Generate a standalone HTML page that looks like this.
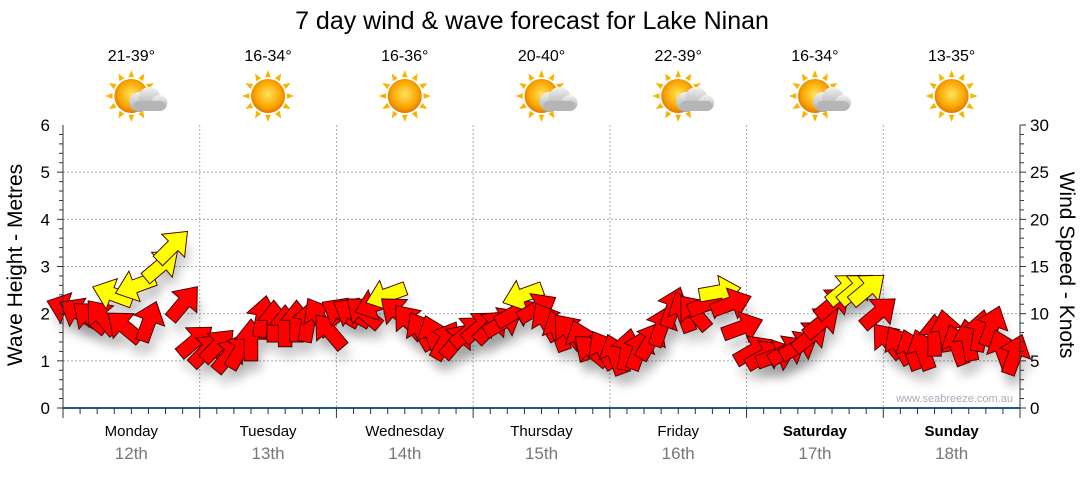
<!DOCTYPE html>
<html><head><meta charset="utf-8"><style>
body{margin:0;background:#fff;font-family:"Liberation Sans",sans-serif}
svg text{font-family:"Liberation Sans",sans-serif}
</style></head><body>
<svg id="c" width="1080" height="475" xmlns="http://www.w3.org/2000/svg">
<defs>
<radialGradient id="sun" cx="50%" cy="45%" r="55%"><stop offset="0" stop-color="#ffe45a"/><stop offset="0.7" stop-color="#f9a400"/><stop offset="1" stop-color="#e07800"/></radialGradient>
<linearGradient id="cloud" x1="0" y1="0" x2="0" y2="1"><stop offset="0" stop-color="#f2f2f2"/><stop offset="1" stop-color="#a8a8a8"/></linearGradient>
<filter id="sh" x="-50%" y="-50%" width="200%" height="200%"><feGaussianBlur stdDeviation="4"/></filter>
</defs>
<text x="532" y="29" font-size="25" text-anchor="middle" fill="#000">7 day wind &amp; wave forecast for Lake Ninan</text>
<g id="grid"></g><g id="shadows"></g><g id="marks"></g><g id="axes"></g>
</svg>
<script>
const days=["Monday","Tuesday","Wednesday","Thursday","Friday","Saturday","Sunday"];
const dates=["12th","13th","14th","15th","16th","17th","18th"];
const temps=["21-39°","16-34°","16-36°","20-40°","22-39°","16-34°","13-35°"];
const cloudy=[1,0,0,1,1,1,0];
const waveTicks=[0,1,2,3,4,5,6];
const windTicks=[0,5,10,15,20,25,30];
const windSpeed=[10.5,10,9.5,9.5,12,8.5,13,9,15,17,11,7,
6,6.5,5.5,6,7,9.5,9,8.5,9,9,9.5,8,
10,10,10,11,12,10,9,8,7.5,7,7,8,
8.5,8.5,9,10,12,10.5,9,8,8,7,6,6,
5.5,6,6,7,8.5,10.5,10,10,11,12.3,11,8.5,
6,5.5,5.5,6,6.5,7.5,9,11,12.5,12.5,12.5,10,
7,6.5,6,6,7.5,8,6.5,7,8,8.5,6,5.5];
const windDir=[-70,-60,-50,-40,-70,-50,-110,20,50,45,40,50,
45,45,40,30,0,10,0,0,0,10,-30,-40,
-60,-60,-50,-110,-110,-50,-40,-30,-20,30,40,50,
50,45,60,60,-110,60,-30,-20,-40,-20,-50,-30,
-20,10,20,30,20,20,-20,-40,70,80,70,70,
60,60,70,60,60,50,50,50,50,50,50,50,
-40,-30,-20,-20,0,-10,-20,-10,10,20,-20,20];
const NS="http://www.w3.org/2000/svg";
const X0=63,X1=1020,Y0=408,YT=125;
const dayW=(X1-X0)/7;
const xAt=i=>X0+(i+0.5)*dayW/12;
const yW=v=>Y0-(v/6)*(Y0-YT);
const yK=v=>Y0-(v/30)*(Y0-YT);
function el(t,a,p){const e=document.createElementNS(NS,t);for(const k in a)e.setAttribute(k,a[k]);document.getElementById(p).appendChild(e);return e;}
for(const v of [1,2,3,4,5]){const l=el('line',{x1:X0,x2:X1,y1:yW(v),y2:yW(v),stroke:'#aaa','stroke-dasharray':'2,2'},'grid');

}
for(let d=1;d<7;d++){const x=X0+d*dayW;const l=el('line',{x1:x,x2:x,y1:YT,y2:Y0,stroke:'#aaa','stroke-dasharray':'2,2'},'grid');

}
el('line',{x1:X0,x2:X0,y1:YT,y2:Y0,stroke:'#333'},'axes');
el('line',{x1:X1,x2:X1,y1:YT,y2:Y0,stroke:'#333'},'axes');
el('line',{x1:X0,x2:X1,y1:Y0,y2:Y0,stroke:'#1c5a8c','stroke-width':2},'axes');
for(let v=0;v<=6;v+=0.2){el('line',{x1:X0-(Math.abs(v-Math.round(v))<0.01?6:4),x2:X0,y1:yW(v),y2:yW(v),stroke:'#333'},'axes');}
for(let v=0;v<=30;v+=1){el('line',{x1:X1,x2:X1+(v%5==0?6:4),y1:yK(v),y2:yK(v),stroke:'#333'},'axes');}
waveTicks.forEach(v=>{const t=el('text',{x:50,y:yW(v)+6,'font-size':17,'text-anchor':'end',fill:'#000'},'axes');t.textContent=v;

});
windTicks.forEach(v=>{const t=el('text',{x:1030,y:yK(v)+6,'font-size':17,fill:'#000'},'axes');t.textContent=v;

});
for(let i=0;i<=56;i++){const x=X0+i*dayW/8;el('line',{x1:x,x2:x,y1:Y0,y2:Y0+(i%8==0?10:6),stroke:'#333'},'axes');}
let t=el('text',{x:0,y:0,'font-size':21,'text-anchor':'middle',transform:'translate(22,265) rotate(-90)'},'axes');t.textContent='Wave Height - Metres';


t=el('text',{x:0,y:0,'font-size':21,'text-anchor':'middle',transform:'translate(1060,265) rotate(90)'},'axes');t.textContent='Wind Speed - Knots';


t=el('text',{x:1013,y:402,'font-size':11,'text-anchor':'end',fill:'#aab'},'axes');t.textContent='www.seabreeze.com.au';


days.forEach((d,i)=>{const cx=X0+(i+0.5)*dayW;
let a=el('text',{x:cx,y:436,'font-size':15,'text-anchor':'middle','font-weight':i>=5?'bold':'normal'},'axes');a.textContent=d;


a=el('text',{x:cx,y:459,'font-size':17,'text-anchor':'middle',fill:'#777'},'axes');a.textContent=dates[i];


a=el('text',{x:cx,y:61,'font-size':16,'text-anchor':'middle'},'axes');a.textContent=temps[i];


const g=el('g',{},'axes');


for(let k=0;k<12;k++){const an=k*Math.PI/6;const r1=19,r2=26;const p=document.createElementNS(NS,'polygon');
const ax=cx+Math.cos(an)*r2,ay=96+Math.sin(an)*r2,b1x=cx+Math.cos(an+0.15)*r1,b1y=96+Math.sin(an+0.15)*r1,b2x=cx+Math.cos(an-0.15)*r1,b2y=96+Math.sin(an-0.15)*r1;
p.setAttribute('points',`${ax},${ay} ${b1x},${b1y} ${b2x},${b2y}`);p.setAttribute('fill','#f7b500');g.appendChild(p);}
const s=document.createElementNS(NS,'circle');s.setAttribute('cx',cx);s.setAttribute('cy',96);s.setAttribute('r',17);s.setAttribute('fill','url(#sun)');g.appendChild(s);
if(cloudy[i]){[[cx+8,102,10],[cx+18,98,11],[cx+28,103,8]].forEach(c=>{const e=document.createElementNS(NS,'circle');e.setAttribute('cx',c[0]);e.setAttribute('cy',c[1]);e.setAttribute('r',c[2]);e.setAttribute('fill','url(#cloud)');g.appendChild(e);});
const r=document.createElementNS(NS,'rect');r.setAttribute('x',cx+2);r.setAttribute('y',101);r.setAttribute('width',32);r.setAttribute('height',10);r.setAttribute('rx',5);r.setAttribute('fill','#b5b5b5');g.appendChild(r);}
});
const shape="M-5,14 L5,14 L5,-2 L12,-2 L0,-17 L-12,-2 L-5,-2 Z";
windSpeed.forEach((v,i)=>{const x=xAt(i),y=yK(v),dir=windDir[i];
const sh=el('path',{d:shape,transform:`translate(${x+4},${y+12}) rotate(${dir}) scale(1.3)`,fill:'#000',opacity:0.18,filter:'url(#sh)'},'shadows');


const a=el('path',{d:shape,transform:`translate(${x},${y}) rotate(${dir}) scale(1.35)`,fill:v>=12?'#ffff00':'#ff0000',stroke:'#400','stroke-width':0.7},'marks');


});
</script>
</body></html>
